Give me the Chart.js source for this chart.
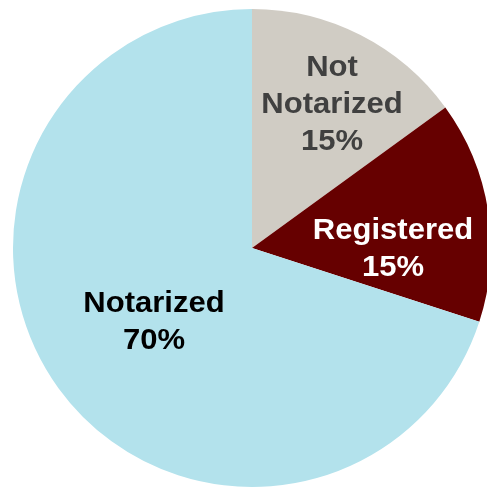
<!DOCTYPE html>
<html>
<head>
<meta charset="utf-8">
<script src="https://cdn.jsdelivr.net/npm/chart.js@4/dist/chart.umd.min.js"></script>
<style>
  html, body { margin: 0; padding: 0; background: #ffffff; overflow: hidden; }
  #wrap { position: absolute; left: 0; top: 0; width: 504px; height: 496px; }
</style>
</head>
<body>
<div id="wrap"><canvas id="chart"></canvas></div>
<script>
// Shares of documents by status
const categories = ['Not\nNotarized', 'Registered', 'Notarized'];
const shares = [15, 15, 70];
const sliceColors = ['#D0CCC4', '#660000', '#B3E2EC'];
const labelColors = ['#404040', '#FFFFFF', '#000000'];
// Label anchor inside each slice: angle clockwise from 12 o'clock (deg), fraction of radius
const labelPlacement = [
  { angle: 28.9, r: 0.693 },
  { angle: 89.6, r: 0.59 },
  { angle: 233.7, r: 0.509 }
];

const sliceLabels = {
  id: 'sliceLabels',
  afterDatasetsDraw(chart) {
    const ctx = chart.ctx;
    const meta = chart.getDatasetMeta(0);
    const lineH = 37;
    const capHalf = 10.3;
    meta.data.forEach((arc, i) => {
      const p = arc.getProps(['x', 'y', 'outerRadius'], true);
      const place = labelPlacement[i];
      const a = (place.angle - 90) * Math.PI / 180;
      const ax = p.x + place.r * p.outerRadius * Math.cos(a);
      const ay = p.y + place.r * p.outerRadius * Math.sin(a);
      const lines = categories[i].split('\n').concat([shares[i] + '%']);
      const first = ay - (lines.length - 1) * lineH / 2 + capHalf;
      ctx.save();
      ctx.fillStyle = labelColors[i];
      ctx.font = 'bold 29px "Liberation Sans", Arial, sans-serif';
      ctx.textAlign = 'center';
      ctx.textBaseline = 'alphabetic';
      lines.forEach((t, k) => {
        ctx.save();
        ctx.translate(ax, first + k * lineH);
        ctx.scale(1.07, 1);
        ctx.fillText(t, 0, 0);
        ctx.restore();
      });
      ctx.restore();
    });
  }
};

new Chart(document.getElementById('chart'), {
  type: 'pie',
  data: {
    labels: categories.map(c => c.replace('\n', ' ')),
    datasets: [{
      data: shares,
      backgroundColor: sliceColors,
      borderWidth: 0
    }]
  },
  options: {
    responsive: true,
    maintainAspectRatio: false,
    animation: false,
    layout: { padding: { left: 13, right: 13, top: 9, bottom: 9 } },
    plugins: {
      legend: { display: false },
      tooltip: { enabled: false }
    }
  },
  plugins: [sliceLabels]
});
</script>
</body>
</html>
